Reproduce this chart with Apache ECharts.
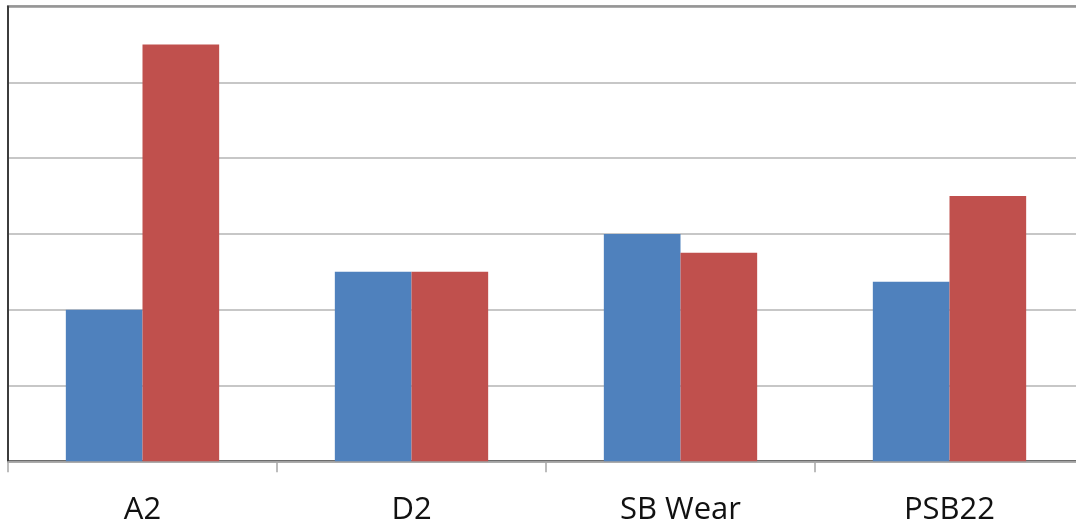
<!DOCTYPE html>
<html>
<head>
<meta charset="utf-8">
<script src="https://cdn.jsdelivr.net/npm/echarts@6/dist/echarts.min.js"></script>
<style>
html,body{margin:0;padding:0;background:#fff;}
#chart{width:1076px;height:521px;}
</style>
</head>
<body>
<div id="chart"></div>
<script>
var categories = ['A2', 'D2', 'SB Wear', 'PSB22'];
var seriesBlue = [2.0, 2.5, 3.0, 2.37];
var seriesRed = [5.5, 2.5, 2.75, 3.5];
var yTicks = [0, 1, 2, 3, 4, 5, 6];

var chart = echarts.init(document.getElementById('chart'), null, {renderer: 'canvas'});
chart.setOption({
  animation: false,
  backgroundColor: '#ffffff',
  grid: {
    left: 8, right: -8, top: 6.5, bottom: 59.7,
    outerBoundsMode: 'none',
    containLabel: false,
    show: true, borderColor: '#3c3c3c', borderWidth: 2, backgroundColor: 'transparent'
  },
  xAxis: {
    type: 'category',
    data: categories,
    axisLine: {show: true, lineStyle: {color: '#a6a6a6', width: 1.5}},
    axisTick: {show: true, length: 11, lineStyle: {color: '#a6a6a6', width: 1.5}},
    axisLabel: {
      color: '#111111', fontSize: 31, fontFamily: 'Open Sans', margin: 33
    },
    splitLine: {show: false}
  },
  yAxis: {
    type: 'value',
    min: yTicks[0], max: yTicks[yTicks.length - 1], interval: 1,
    axisLine: {show: true, lineStyle: {color: '#3c3c3c', width: 2}},
    axisTick: {show: false},
    axisLabel: {show: false},
    splitLine: {show: true, lineStyle: {color: '#b4b4b4', width: 1.5}}
  },
  series: [
    {type: 'bar', data: seriesBlue, itemStyle: {color: '#4F81BD'}, barGap: '0%', barCategoryGap: '43%'},
    {type: 'bar', data: seriesRed, itemStyle: {color: '#C0504D'}, barGap: '0%', barCategoryGap: '43%'}
  ]
});
</script>
</body>
</html>
